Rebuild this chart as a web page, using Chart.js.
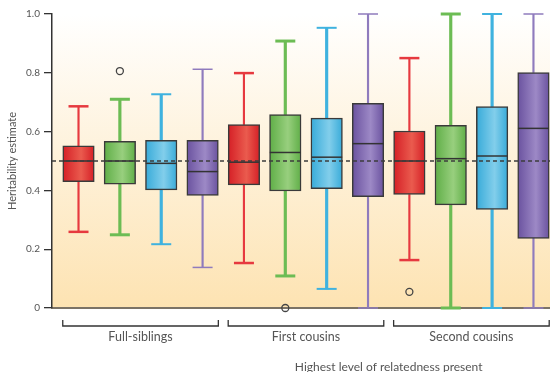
<!DOCTYPE html>
<html lang="en">
<head>
  <meta charset="UTF-8" />
  <title>Heritability estimate by relatedness</title>
  <script src="https://cdn.jsdelivr.net/npm/chart.js@4"></script>
  <style>
    html, body { margin: 0; padding: 0; background: #fff; }
    #wrap { width: 550px; height: 372px; }
  </style>
</head>
<body>
  <div id="wrap"><canvas id="boxChart" width="550" height="372"></canvas></div>

  <script>
    // groups along the x axis
    const groups = ['Full-siblings', 'First cousins', 'Second cousins'];

    // per group: [min, q1, median, q3, max]
    const redStats = [[0.259, 0.430, 0.500, 0.552, 0.686], [0.153, 0.419, 0.496, 0.624, 0.799], [0.163, 0.386, 0.500, 0.602, 0.850]];
    const greenStats = [[0.249, 0.421, 0.500, 0.567, 0.710], [0.109, 0.398, 0.529, 0.658, 0.908], [0.0, 0.351, 0.508, 0.621, 1.0]];
    const blueStats = [[0.217, 0.402, 0.492, 0.570, 0.727], [0.065, 0.406, 0.513, 0.646, 0.953], [0.0, 0.335, 0.517, 0.685, 1.0]];
    const purpleStats = [[0.138, 0.383, 0.464, 0.570, 0.812], [0.0, 0.379, 0.559, 0.696, 1.0], [0.0, 0.237, 0.611, 0.801, 1.0]];

    // outliers per group
    const redOutliers = [[], [], [0.055]];
    const greenOutliers = [[0.806], [0.0], []];
    const blueOutliers = [[], [], []];
    const purpleOutliers = [[], [], []];

    const yTicks = [0, 0.2, 0.4, 0.6, 0.8, 1.0];
    const refLine = 0.5;
    const xTitle = 'Highest level of relatedness present';
    const yTitle = 'Heritability estimate';

    // x positions: group g, series s -> g * 4 + s
    const xMin = -0.641, xMax = 11.40;
    const boxWidth = 31.5;
    const FONT = 'Lato, "Open Sans", sans-serif';

    const series = [
      { stats: redStats, outliers: redOutliers, edge: '#d51f26', light: '#ea5b4e', whisker: '#e6393f', lineW: 1.5, capW: 2.5 },
      { stats: greenStats, outliers: greenOutliers, edge: '#5fae47', light: '#98cf7e', whisker: '#6cbc54', lineW: 2.5, capW: 3 },
      { stats: blueStats, outliers: blueOutliers, edge: '#38abd9', light: '#82ceeb', whisker: '#3fb2df', lineW: 2.5, capW: 2 },
      { stats: purpleStats, outliers: purpleOutliers, edge: '#6a529f', light: '#9d89c6', whisker: '#8f7bbd', lineW: 1.5, capW: 1.5 }
    ];

    const boxFill = (edge, light) => (ctx) => {
      const chart = ctx.chart;
      if (!chart.chartArea || !ctx.raw) return edge;
      const cx = chart.scales.x.getPixelForValue(ctx.raw.x);
      const g = chart.ctx.createLinearGradient(cx - boxWidth / 2, 0, cx + boxWidth / 2, 0);
      g.addColorStop(0, edge);
      g.addColorStop(0.58, light);
      g.addColorStop(1, edge);
      return g;
    };

    const datasets = [];
    series.forEach((s, si) => {
      const pos = gi => gi * 4 + si;

      datasets.push({
        type: 'bar', order: 5, grouped: false, barThickness: s.lineW,
        backgroundColor: s.whisker, borderWidth: 0,
        data: s.stats.flatMap((st, gi) => [{ x: pos(gi), y: [st[0], st[1]] }, { x: pos(gi), y: [st[3], st[4]] }])
      });
      datasets.push({
        type: 'scatter', order: 4, clip: false,
        pointStyle: 'line', pointRadius: 10, pointBorderWidth: s.capW, pointBorderColor: s.whisker,
        data: s.stats.flatMap((st, gi) => [{ x: pos(gi), y: st[0] }, { x: pos(gi), y: st[4] }])
      });
      datasets.push({
        type: 'bar', order: 3, grouped: false, barThickness: boxWidth,
        backgroundColor: boxFill(s.edge, s.light), borderColor: '#3a3a3a', borderWidth: 1.5, borderSkipped: false,
        data: s.stats.map((st, gi) => ({ x: pos(gi), y: [st[1], st[3]] }))
      });
      datasets.push({
        type: 'scatter', order: 2, clip: false,
        pointStyle: 'line', pointRadius: 15.5, pointBorderWidth: 1.5, pointBorderColor: '#333',
        data: s.stats.map((st, gi) => ({ x: pos(gi), y: st[2] }))
      });
      datasets.push({
        type: 'scatter', order: 0, clip: false,
        pointStyle: 'circle', pointRadius: 3.5, pointBorderWidth: 1.3,
        pointBorderColor: '#444', pointBackgroundColor: 'rgba(0,0,0,0)',
        data: s.outliers.flatMap((vals, gi) => vals.map(v => ({ x: pos(gi), y: v })))
      });
    });

    datasets.push({
      type: 'line', order: 1,
      borderColor: '#3d3d3d', borderWidth: 1.3, borderDash: [4, 3], pointRadius: 0, fill: false,
      data: [{ x: xMin, y: refLine }, { x: xMax, y: refLine }]
    });

    // plot background, white at the top fading to peach at the bottom
    const backdrop = {
      id: 'backdrop',
      beforeDraw(chart) {
        const { ctx, chartArea: a } = chart;
        const g = ctx.createLinearGradient(0, a.top, 0, a.bottom);
        g.addColorStop(0, '#ffffff');
        g.addColorStop(1, '#fde3b2');
        ctx.save();
        ctx.fillStyle = g;
        ctx.fillRect(a.left, a.top - 14, a.right - a.left, a.bottom - a.top + 14);
        ctx.restore();
      }
    };

    // group brackets, group labels and x title
    const brackets = {
      id: 'brackets',
      afterDraw(chart) {
        const { ctx, scales: { x } } = chart;
        const y = chart.chartArea.bottom + 18;
        ctx.save();
        ctx.strokeStyle = '#333';
        ctx.lineWidth = 1.3;
        ctx.fillStyle = '#555';
        ctx.textAlign = 'center';
        ctx.textBaseline = 'alphabetic';
        ctx.font = '12.5px ' + FONT;
        groups.forEach((name, gi) => {
          const l = x.getPixelForValue(gi * 4) - boxWidth / 2;
          const r = x.getPixelForValue(gi * 4 + 3) + boxWidth / 2;
          ctx.beginPath();
          ctx.moveTo(l, y - 6);
          ctx.lineTo(l, y);
          ctx.lineTo(r, y);
          ctx.lineTo(r, y - 6);
          ctx.stroke();
          ctx.fillText(name, x.getPixelForValue(gi * 4 + 1.5), y + 15);
        });
        ctx.font = '12px ' + FONT;
        ctx.fillText(xTitle, x.getPixelForValue(7.5), chart.chartArea.bottom + 62.5);
        ctx.restore();
      }
    };

    new Chart(document.getElementById('boxChart'), {
      type: 'bar',
      data: { datasets },
      options: {
        responsive: false,
        devicePixelRatio: 1,
        animation: false,
        events: [],
        layout: { autoPadding: false, padding: { top: 14, right: 0, left: 0, bottom: 0 } },
        plugins: { legend: { display: false }, tooltip: { enabled: false } },
        scales: {
          x: {
            type: 'linear', min: xMin, max: xMax, offset: false,
            ticks: { display: false },
            grid: { display: false },
            border: { display: true, color: '#7b7366', width: 2 },
            afterFit: s => { s.height = 64; }
          },
          y: {
            min: 0, max: 1,
            afterBuildTicks: s => { s.ticks = yTicks.map(v => ({ value: v })); },
            ticks: {
              color: '#555', padding: 4,
              font: { family: FONT, size: 10 },
              callback: v => (v === 0 ? '0' : v.toFixed(1))
            },
            grid: { drawOnChartArea: false, drawTicks: true, tickLength: 8, color: '#333', lineWidth: 1.3 },
            border: { display: true, color: '#333', width: 1.5 },
            title: {
              display: true, text: yTitle, color: '#555',
              font: { family: FONT, size: 11 }, padding: { top: 6, bottom: 0 }
            },
            afterFit: s => { s.width = 52; }
          }
        }
      },
      plugins: [backdrop, brackets]
    });
  </script>
</body>
</html>
